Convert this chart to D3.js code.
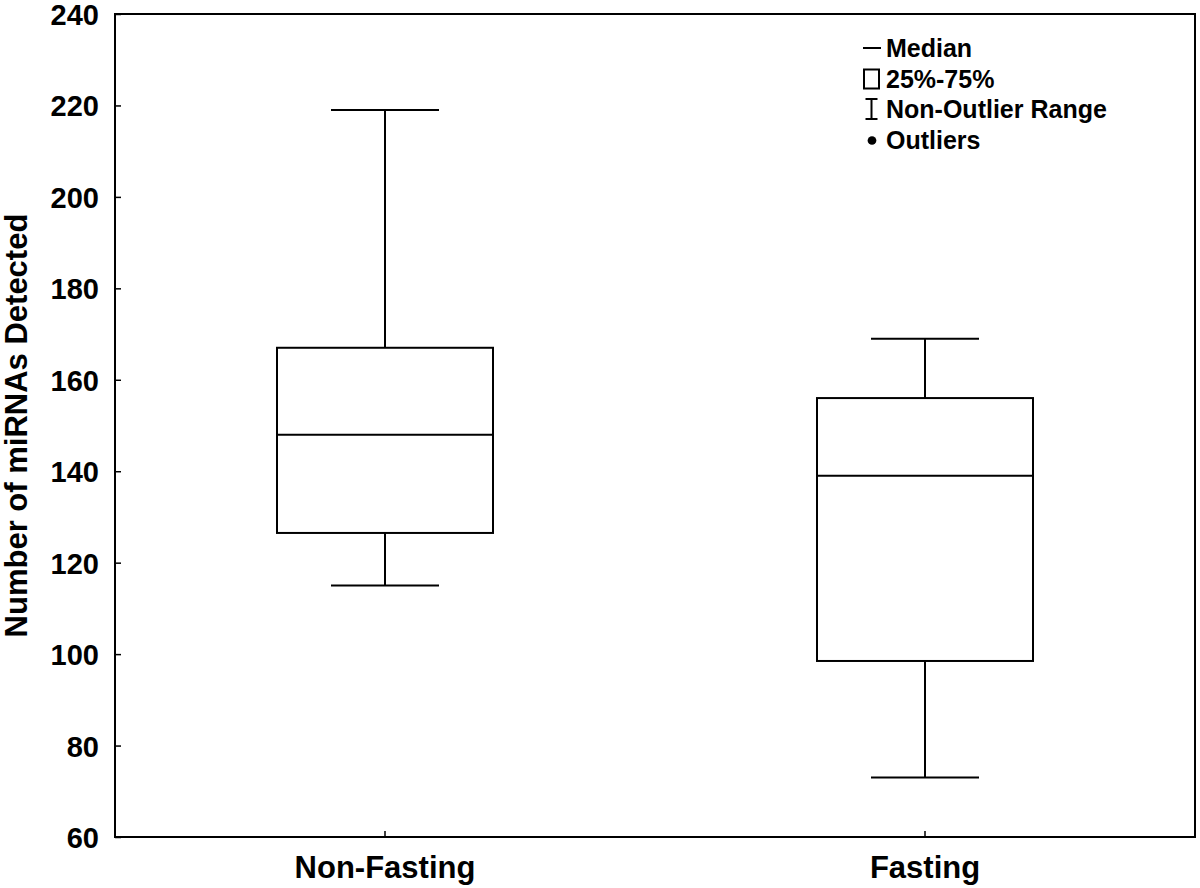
<!DOCTYPE html>
<html>
<head>
<meta charset="utf-8">
<script src="https://cdn.jsdelivr.net/npm/d3@7/dist/d3.min.js"></script>
<style>
  body { margin: 0; background: #fff; }
  text { font-family: "Liberation Sans", Arial, sans-serif; font-weight: bold; fill: #000; }
</style>
</head>
<body>
<svg id="chart" width="1200" height="888"></svg>
<script>
// box plot summary per group
const groups = ["Non-Fasting", "Fasting"];
const whiskerLow = [115, 73];
const q1 = [126.5, 98.5];
const median = [148, 139];
const q3 = [167, 156];
const whiskerHigh = [219, 169];

const yTicks = [60, 80, 100, 120, 140, 160, 180, 200, 220, 240];
const legendItems = ["Median", "25%-75%", "Non-Outlier Range", "Outliers"];

const margin = { left: 115, right: 5, top: 14, bottom: 51 };
const W = 1200, H = 888;
const iw = W - margin.left - margin.right;
const ih = H - margin.top - margin.bottom;

const svg = d3.select("#chart");
const g = svg.append("g").attr("transform", `translate(${margin.left},${margin.top})`);

const x = d3.scaleBand().domain(groups).range([0, iw]);
const y = d3.scaleLinear().domain([60, 240]).range([ih, 0]);

const boxW = x.bandwidth() * 0.4;
const capW = x.bandwidth() * 0.2;

// frame
g.append("rect")
    .attr("width", iw).attr("height", ih)
    .attr("fill", "none").attr("stroke", "#000").attr("stroke-width", 2);

// y axis (ticks inside)
const yAxis = g.append("g").call(
    d3.axisLeft(y).tickValues(yTicks).tickSize(-6).tickPadding(16)
);
yAxis.select(".domain").remove();
yAxis.selectAll(".tick line").attr("stroke-width", 1.5);
yAxis.selectAll("text").style("font-size", "29px").attr("dy", "0.36em");

// x axis (ticks inside)
const xAxis = g.append("g").attr("transform", `translate(0,${ih})`).call(
    d3.axisBottom(x).tickSize(-6).tickPadding(19)
);
xAxis.select(".domain").remove();
xAxis.selectAll(".tick line").attr("stroke-width", 1.5);
xAxis.selectAll("text").style("font-size", "31px").attr("dy", "0.71em");

// y title, centred on the plot
svg.append("text")
    .attr("transform", `translate(27,${margin.top + ih / 2}) rotate(-90)`)
    .attr("text-anchor", "middle")
    .style("font-size", "31px")
    .text("Number of miRNAs Detected");

// boxes
const data = groups.map((name, i) => ({
    name, lo: whiskerLow[i], q1: q1[i], med: median[i], q3: q3[i], hi: whiskerHigh[i]
}));

const box = g.selectAll(".box").data(data).join("g")
    .attr("class", "box")
    .attr("transform", d => `translate(${x(d.name) + x.bandwidth() / 2},0)`)
    .attr("stroke", "#000").attr("stroke-width", 2).attr("fill", "none");

box.append("line").attr("y1", d => y(d.hi)).attr("y2", d => y(d.q3));
box.append("line").attr("y1", d => y(d.q1)).attr("y2", d => y(d.lo));
box.append("line").attr("x1", -capW / 2).attr("x2", capW / 2)
    .attr("y1", d => y(d.hi)).attr("y2", d => y(d.hi));
box.append("line").attr("x1", -capW / 2).attr("x2", capW / 2)
    .attr("y1", d => y(d.lo)).attr("y2", d => y(d.lo));
box.append("rect")
    .attr("x", -boxW / 2).attr("width", boxW)
    .attr("y", d => y(d.q3)).attr("height", d => y(d.q1) - y(d.q3))
    .attr("fill", "#fff");
box.append("line").attr("x1", -boxW / 2).attr("x2", boxW / 2)
    .attr("y1", d => y(d.med)).attr("y2", d => y(d.med));

// legend
const lg = svg.append("g").attr("transform", "translate(863,48)");
const rowH = 30.5;
const rows = lg.selectAll(".row").data(legendItems).join("g")
    .attr("transform", (d, i) => `translate(0,${i * rowH})`);
rows.append("text").attr("x", 23).attr("dy", "0.36em")
    .style("font-size", "25px").text(d => d);

const sym = lg.append("g").attr("stroke", "#000").attr("stroke-width", 2).attr("fill", "none");
sym.append("line").attr("x1", 0).attr("x2", 18).attr("y1", 0).attr("y2", 0);
sym.append("rect").attr("x", 1).attr("y", rowH - 9).attr("width", 15).attr("height", 19);
sym.append("line").attr("x1", 8.5).attr("x2", 8.5).attr("y1", 2 * rowH - 10).attr("y2", 2 * rowH + 10);
sym.append("line").attr("x1", 2.5).attr("x2", 14.5).attr("y1", 2 * rowH - 10).attr("y2", 2 * rowH - 10);
sym.append("line").attr("x1", 2.5).attr("x2", 14.5).attr("y1", 2 * rowH + 10).attr("y2", 2 * rowH + 10);
lg.append("path")
    .attr("transform", `translate(9,${3 * rowH + 1})`)
    .attr("d", d3.symbol(d3.symbolCircle, 60))
    .attr("fill", "#000");
</script>
</body>
</html>
